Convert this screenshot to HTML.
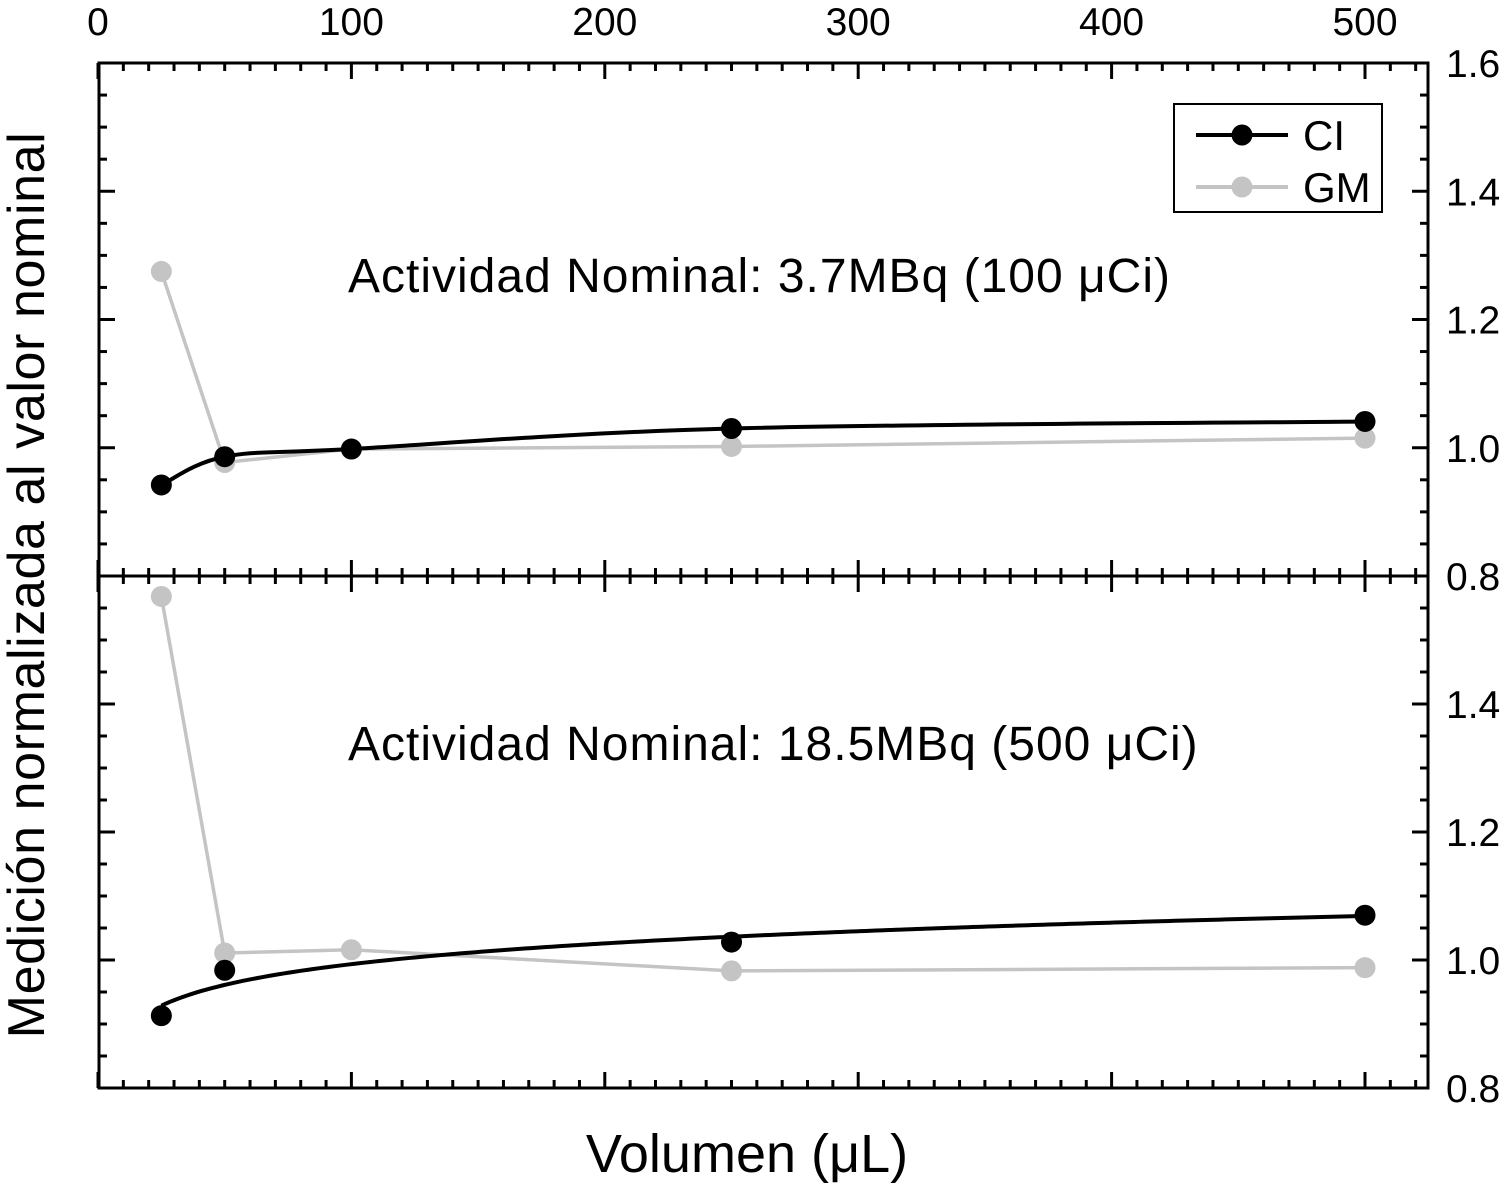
<!DOCTYPE html>
<html><head><meta charset="utf-8"><style>
body{margin:0;background:#fff}
svg{display:block;font-family:"Liberation Sans",Arial,sans-serif}
</style></head><body>
<svg id="c" width="1508" height="1187" viewBox="0 0 1508 1187"></svg>
<script>
const xTicks=[0,100,200,300,400,500];
const yTicks=[0.8,1.0,1.2,1.4,1.6];
const volumes=[25,50,100,250,500];
const topCI=[0.942,0.986,0.998,1.030,1.041];
const topGM=[1.275,0.977,0.998,1.002,1.015];
const botCIvol=[25,50,250,500];
const botCI=[0.913,0.984,1.028,1.070];
const botGM=[1.568,1.011,1.016,0.983,0.988];
const panelLabels=["Actividad Nominal: 3.7MBq (100 \u03bcCi)","Actividad Nominal: 18.5MBq (500 \u03bcCi)"];

const L=99,R=1428,T=63,M=576,B=1088;
const svg=document.getElementById('c');
const NS='http://www.w3.org/2000/svg';
function el(t,a,p){const e=document.createElementNS(NS,t);for(const k in a)e.setAttribute(k,a[k]);(p||svg).appendChild(e);return e;}
const X=v=>98+v*(1365-98)/500;
const Yp=(top,bot)=>v=>bot-(v-0.8)*(bot-top)/0.8;
const Y1=Yp(T,M),Y2=Yp(M,B);

let g=el('g',{});


for(let v=0;v<=520;v+=10){const x=X(v);if(x>R)break;const maj=v%100===0;const len=maj?16:8;
 el('line',{x1:x,y1:T,x2:x,y2:T+len,stroke:'#000','stroke-width':3},g);
 el('line',{x1:x,y1:B,x2:x,y2:B-len,stroke:'#000','stroke-width':3},g);
 el('line',{x1:x,y1:M-len,x2:x,y2:M+len,stroke:'#000','stroke-width':3},g);}
for(let i=0;i<=16;i++){const v=0.8+i*0.05;const maj=i%4===0;const len=maj?16:8;
 for(const Y of [Y1,Y2]){const y=Y(v);
  el('line',{x1:L,y1:y,x2:L+len,y2:y,stroke:'#000','stroke-width':3},g);
  el('line',{x1:R,y1:y,x2:R-len,y2:y,stroke:'#000','stroke-width':3},g);}}
let fr=el('rect',{x:L,y:T,width:R-L,height:B-T,fill:'none',stroke:'#000','stroke-width':3});


el('line',{x1:L,y1:M,x2:R,y2:M,stroke:'#000','stroke-width':3});

xTicks.forEach(v=>{const t=el('text',{x:X(v),y:35,'font-size':39,'text-anchor':'middle'});t.textContent=v;
 
 });
yTicks.forEach(v=>{for(const Y of [Y1,Y2]){if(Y===Y2&&v>1.5)continue;
 const t=el('text',{x:1446,y:Y(v)+14,'font-size':39});t.textContent=v.toFixed(1);
 
 }});

let yt=el('text',{transform:'translate(44,585) rotate(-90)','font-size':52,'text-anchor':'middle','letter-spacing':0.6});
yt.textContent='Medición normalizada al valor nominal';


let xt=el('text',{x:747,y:1172,'font-size':54,'text-anchor':'middle'});
xt.textContent='Volumen (\u03bcL)';



function smooth(pts){let d=`M${pts[0][0]},${pts[0][1]}`;
 for(let i=0;i<pts.length-1;i++){const p0=pts[i-1]||pts[i],p1=pts[i],p2=pts[i+1],p3=pts[i+2]||p2;
  const c1=[p1[0]+(p2[0]-p0[0])/6,p1[1]+(p2[1]-p0[1])/6],c2=[p2[0]-(p3[0]-p1[0])/6,p2[1]-(p3[1]-p1[1])/6];
  d+=` C${c1[0]},${c1[1]} ${c2[0]},${c2[1]} ${p2[0]},${p2[1]}`;}return d;}
function logFitPath(xs,vals,Y){const n=xs.length;let sx=0,sy=0,sxx=0,sxy=0;
 xs.forEach((v,i)=>{const l=Math.log(v);sx+=l;sy+=vals[i];sxx+=l*l;sxy+=l*vals[i];});
 const b=(n*sxy-sx*sy)/(n*sxx-sx*sx),a=(sy-b*sx)/n;let d='';
 for(let v=xs[0];v<=xs[n-1];v+=2){d+=(d?' L':'M')+X(v)+','+Y(a+b*Math.log(v));}return d;}
function series(xs,vals,Y,color,mode,name){
 const pts=xs.map((v,i)=>[X(v),Y(vals[i])]);
 const d=mode==='fit'?logFitPath(xs,vals,Y):mode==='smooth'?smooth(pts):'M'+pts.map(q=>q.join(',')).join(' L');
 const p=el('path',{d:d,fill:'none',stroke:color,'stroke-width':mode?4:3.5});
 
 
 pts.forEach(q=>{const c=el('circle',{cx:q[0],cy:q[1],r:10.5,fill:color});
  
  });}
series(volumes,topGM,Y1,'#c4c4c4','','gm-top');
series(volumes,topCI,Y1,'#000','smooth','ci-top');
series(volumes,botGM,Y2,'#c4c4c4','','gm-bottom');
series(botCIvol,botCI,Y2,'#000','fit','ci-bottom');

panelLabels.forEach((s,i)=>{const t=el('text',{x:348,y:i?760:292,'font-size':48,'letter-spacing':1});t.textContent=s;
 
 });

let lg=el('g',{});


el('rect',{x:1174,y:104,width:208,height:108,fill:'#fff',stroke:'#000','stroke-width':2},lg);
[['CI','#000',135],['GM','#c4c4c4',187]].forEach(([n,c,y])=>{
 el('line',{x1:1196,y1:y,x2:1288,y2:y,stroke:c,'stroke-width':4},lg);
 el('circle',{cx:1242,cy:y,r:10.5,fill:c},lg);
 const t=el('text',{x:1303,y:y+15,'font-size':42},lg);t.textContent=n;
 
 });
</script>
</body></html>
